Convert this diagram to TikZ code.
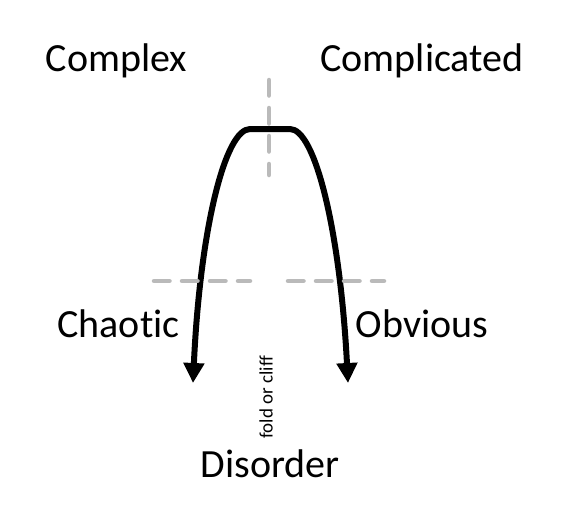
\documentclass[tikz,border=0pt]{standalone}
\usepackage{fontspec}
\setmainfont{Carlito}[Ligatures={NoCommon}]
\usetikzlibrary{arrows.meta}

\begin{document}
\begin{tikzpicture}[
    x=1pt, y=-1pt,
    zone/.style={font=\fontsize{40}{48}\selectfont, anchor=base, inner sep=0pt},
    fold/.style={line width=6pt, line join=round,
                {Triangle[length=20pt,width=20pt]}-{Triangle[length=20pt,width=20pt]}},
    divider/.style={line width=4.5pt, draw=black!27, line cap=round, dash pattern=on 15.5pt off 12.5pt}
]
\fill[white] (0,0) rectangle (568,509);
\useasboundingbox (0,0) rectangle (568,509);

% domains
\node[zone] (complex) at (116.5,71) {Complex};
\node[zone] (complicated) at (422,71) {Complicated};
\node[zone] (chaotic) at (118.5,337) {Chaotic};
\node[zone] (obvious) at (422,337) {Obvious};
\node[zone] (disorder) at (270,477) {Disorder};
\node[rotate=90, inner sep=0pt, font=\fontsize{19}{22}\selectfont] (cliff) at (266,397) {fold or cliff};

% the fold
\coordinate (chaos tip) at (193,383);
\coordinate (peak left) at (250,129);
\coordinate (peak right) at (290,129);
\coordinate (obvious tip) at (348,383);
\draw[fold] (chaos tip) .. controls (200,230) and (225,129) .. (peak left)
    -- (peak right) .. controls (315,129) and (340,230) .. (obvious tip);

% dividers
\draw[divider] (154,281) -- (250,281);
\draw[divider] (288,281) -- (384,281);
\draw[divider] (269,80) -- (269,175);
\end{tikzpicture}
\end{document}
